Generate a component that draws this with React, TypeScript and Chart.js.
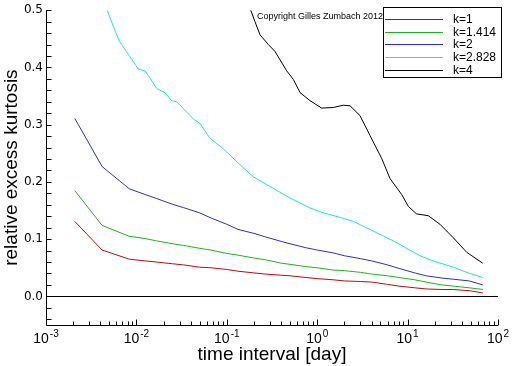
import React, { useEffect, useRef } from "react";
import { Chart, registerables } from "chart.js";

Chart.register(...registerables);

// time interval in days
const timeIntervals = [0.00208, 0.00417, 0.00833, 0.0125, 0.0167, 0.025, 0.0333, 0.05, 0.0667, 0.1, 0.133, 0.2, 0.267, 0.4, 0.5, 0.75, 1, 1.5, 2, 3, 4, 6, 8, 12, 16, 24, 32, 48, 68];

const k1 = [0.131, 0.081, 0.065, 0.062, 0.060, 0.057, 0.055, 0.051, 0.050, 0.047, 0.044, 0.041, 0.039, 0.037, 0.036, 0.033, 0.031, 0.029, 0.027, 0.026, 0.025, 0.021, 0.018, 0.015, 0.013, 0.012, 0.012, 0.010, 0.006];
const k1414 = [0.185, 0.124, 0.105, 0.101, 0.097, 0.092, 0.089, 0.084, 0.081, 0.075, 0.072, 0.067, 0.064, 0.058, 0.056, 0.052, 0.050, 0.046, 0.045, 0.042, 0.039, 0.036, 0.033, 0.029, 0.025, 0.020, 0.018, 0.015, 0.012];
const k2 = [0.311, 0.227, 0.188, 0.178, 0.171, 0.161, 0.155, 0.146, 0.137, 0.126, 0.117, 0.110, 0.104, 0.096, 0.092, 0.085, 0.081, 0.076, 0.071, 0.066, 0.062, 0.055, 0.049, 0.041, 0.036, 0.032, 0.030, 0.027, 0.020];

const k2828Intervals = [0.00208, 0.00417, 0.00476, 0.00554, 0.00647, 0.00813, 0.0105, 0.01245, 0.0141, 0.0168, 0.0207, 0.0245, 0.0279, 0.036, 0.0426, 0.0506, 0.0652, 0.0914, 0.14, 0.196, 0.301, 0.5, 0.832, 1.17, 1.79, 2.51, 4.18, 6.95, 13.7, 19.2, 32.1, 49.0, 67.7];
const k2828 = [0.75, 0.52, 0.50, 0.472, 0.446, 0.423, 0.397, 0.394, 0.382, 0.363, 0.356, 0.342, 0.340, 0.322, 0.310, 0.302, 0.276, 0.258, 0.230, 0.209, 0.192, 0.172, 0.1545, 0.146, 0.138, 0.131, 0.114, 0.097, 0.071, 0.062, 0.051, 0.040, 0.033];

const k4Intervals = [0.00208, 0.00417, 0.00833, 0.0125, 0.0167, 0.025, 0.0333, 0.05, 0.0667, 0.1, 0.133, 0.184, 0.205, 0.233, 0.288, 0.341, 0.46, 0.545, 0.646, 0.832, 1.12, 1.51, 1.94, 2.31, 2.97, 3.84, 5.17, 6.38, 8.6, 10.2, 12.6, 16.9, 22.8, 32.0, 45.1, 67.7];
const k4 = [1.25, 1.05, 0.93, 0.88, 0.84, 0.78, 0.74, 0.68, 0.64, 0.6, 0.56, 0.50, 0.480, 0.457, 0.440, 0.428, 0.394, 0.379, 0.356, 0.342, 0.329, 0.330, 0.334, 0.333, 0.316, 0.281, 0.241, 0.206, 0.178, 0.157, 0.144, 0.141, 0.126, 0.1025, 0.077, 0.058];

const seriesLabels = ["k=1", "k=1.414", "k=2", "k=2.828", "k=4"];
const seriesX = [timeIntervals, timeIntervals, timeIntervals, k2828Intervals, k4Intervals];
const seriesValues = [k1, k1414, k2, k2828, k4];
const seriesColors = ["#b01010", "#20b020", "#3030b0", "#20e0e0", "#000000"];

const xTickValues = [0.001, 0.01, 0.1, 1, 10, 100];
const xTickExponents = ["-3", "-2", "-1", "0", "1", "2"];
const yTickValues = [0, 0.1, 0.2, 0.3, 0.4, 0.5];
const yTickLabels = ["0.0", "0.1", "0.2", "0.3", "0.4", "0.5"];
const yMinorTicks = [-0.04, -0.02, 0, 0.02, 0.04, 0.06, 0.08, 0.1, 0.12, 0.14, 0.16, 0.18, 0.2, 0.22, 0.24, 0.26, 0.28, 0.3, 0.32, 0.34, 0.36, 0.38, 0.4, 0.42, 0.44, 0.46, 0.48, 0.5];
const xMinorMultipliers = [2, 3, 4, 5, 6, 7, 8, 9];

const copyrightText = "Copyright Gilles Zumbach 2012";

const decorPlugin = {
  id: "decor",
  afterDatasetsDraw(chart: any) {
    const { ctx, chartArea, scales } = chart;
    const { left, right, top, bottom } = chartArea;
    const xs = scales.x;
    const ys = scales.y;
    ctx.save();
    ctx.strokeStyle = "#000";
    ctx.lineWidth = 1;
    // zero line
    const y0 = Math.round(ys.getPixelForValue(0)) + 0.5;
    ctx.beginPath();
    ctx.moveTo(left, y0);
    ctx.lineTo(right, y0);
    ctx.stroke();
    // axes
    const lx = Math.round(left) + 0.5;
    const by = Math.round(bottom) + 0.5;
    ctx.beginPath();
    ctx.moveTo(lx, top);
    ctx.lineTo(lx, by);
    ctx.lineTo(right, by);
    ctx.stroke();
    // y ticks (inside)
    ctx.beginPath();
    for (const v of yMinorTicks) {
      const py = Math.round(ys.getPixelForValue(v)) + 0.5;
      ctx.moveTo(lx, py);
      ctx.lineTo(lx + 5, py);
    }
    // x ticks (inside)
    for (let i = 0; i < xTickValues.length; i++) {
      const dv = xTickValues[i];
      const px = Math.round(xs.getPixelForValue(dv)) + 0.5;
      ctx.moveTo(px, by);
      ctx.lineTo(px, by - 6);
      if (i < xTickValues.length - 1) {
        for (const m of xMinorMultipliers) {
          const mx = Math.round(xs.getPixelForValue(dv * m)) + 0.5;
          ctx.moveTo(mx, by);
          ctx.lineTo(mx, by - 4);
        }
      }
    }
    ctx.stroke();

    // x tick labels 10^n
    ctx.fillStyle = "#000";
    ctx.textBaseline = "alphabetic";
    ctx.textAlign = "left";
    for (let i = 0; i < xTickValues.length; i++) {
      const px = xs.getPixelForValue(xTickValues[i]);
      ctx.font = "14px 'Liberation Sans'";
      const w1 = ctx.measureText("10").width;
      ctx.font = "10px 'Liberation Sans'";
      const w2 = ctx.measureText(xTickExponents[i]).width;
      const start = px - (w1 + w2 + 1) / 2;
      ctx.font = "14px 'Liberation Sans'";
      ctx.fillText("10", start, bottom + 18);
      ctx.font = "10px 'Liberation Sans'";
      ctx.fillText(xTickExponents[i], start + w1 + 1, bottom + 12);
    }

    // copyright
    ctx.font = "9px 'Liberation Sans'";
    ctx.fillText(copyrightText, 257, 19);

    // legend
    const bx = 383.5, bY = 7.5, bw = 118, bh = 70;
    ctx.fillStyle = "#fff";
    ctx.fillRect(bx, bY, bw, bh);
    ctx.strokeStyle = "#000";
    ctx.lineWidth = 1;
    ctx.strokeRect(bx, bY, bw, bh);
    ctx.font = "12px 'Liberation Sans'";
    ctx.textBaseline = "middle";
    chart.data.datasets.forEach((ds: any, i: number) => {
      const ry = Math.round(19 + i * 12.7) + 0.5;
      ctx.strokeStyle = seriesColors[i];
      ctx.lineWidth = 1;
      ctx.beginPath();
      ctx.moveTo(385, ry);
      ctx.lineTo(443, ry);
      ctx.stroke();
      ctx.fillStyle = "#000";
      ctx.fillText(ds.label, 453, ry);
    });
    ctx.restore();
  },
};

export default function App() {
  const canvasRef = useRef<HTMLCanvasElement | null>(null);

  useEffect(() => {
    const canvas = canvasRef.current;
    if (!canvas) return;
    const chart = new Chart(canvas, {
      type: "line",
      data: {
        datasets: seriesLabels.map((label, i) => ({
          label,
          data: seriesX[i].map((t, j) => ({ x: t, y: seriesValues[i][j] })),
          borderColor: seriesColors[i],
          backgroundColor: seriesColors[i],
          borderWidth: 1,
          pointRadius: 0,
          tension: 0,
          fill: false,
        })),
      },
      options: {
        animation: false,
        responsive: false,
        devicePixelRatio: 1,
        layout: { padding: { top: 7, right: 14, left: 0, bottom: 0 } },
        plugins: {
          legend: { display: false },
          tooltip: { enabled: false },
        },
        scales: {
          x: {
            type: "logarithmic",
            min: 0.001,
            max: 100,
            afterBuildTicks: (s: any) => {
              s.ticks = xTickValues.map((v) => ({ value: v }));
            },
            afterFit: (s: any) => {
              s.height = 41;
            },
            grid: { display: false, drawTicks: false },
            border: { display: false },
            ticks: { display: false },
            title: {
              display: true,
              text: "time interval [day]",
              color: "#000",
              font: { family: "Liberation Sans", size: 19 },
              padding: 0,
            },
          },
          y: {
            type: "linear",
            min: -0.05,
            max: 0.5,
            afterBuildTicks: (s: any) => {
              s.ticks = yTickValues.map((v) => ({ value: v }));
            },
            afterFit: (s: any) => {
              s.width = 46;
            },
            grid: { display: false, drawTicks: false },
            border: { display: false },
            ticks: {
              color: "#000",
              font: { family: "DejaVu Sans", size: 12 },
              padding: 3,
              callback: (_v: any, i: number) => yTickLabels[i],
            },
            title: {
              display: true,
              text: "relative excess kurtosis",
              color: "#000",
              font: { family: "Liberation Sans", size: 19 },
              padding: 0,
            },
          },
        },
      },
      plugins: [decorPlugin],
    } as any);
    return () => chart.destroy();
  }, []);

  return (
    <div style={{ position: "absolute", left: 0, top: 0, width: 512, height: 366, background: "#fff" }}>
      <canvas ref={canvasRef} width={512} height={366} />
    </div>
  );
}
